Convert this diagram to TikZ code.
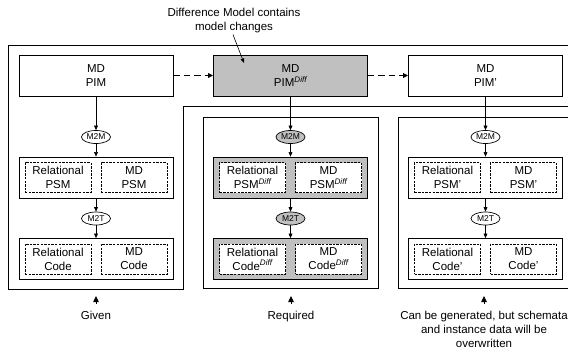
\documentclass[tikz,border=0pt]{standalone}
\usepackage{fontspec}
\setmainfont{Liberation Sans}
\usetikzlibrary{arrows.meta,shapes.geometric}
\definecolor{boxgray}{RGB}{192,192,192}
\newcommand\dffsup{\textsuperscript{\itshape Diff}}
\begin{document}
\begin{tikzpicture}[x=1pt,y=-1pt,
  every node/.style={font=\fontsize{11.5}{14}\selectfont, inner sep=0pt, align=center},
  frame/.style={draw, line width=0.8pt},
  pimbox/.style={draw, line width=0.8pt, minimum width=154pt, minimum height=41pt},
  container/.style={draw, line width=0.8pt, minimum width=154pt, minimum height=41pt},
  modelbox/.style={draw, fill=white, line width=1pt, dash pattern=on 2.4pt off 1.2pt, minimum width=66pt, minimum height=30pt},
  trafo/.style={draw, ellipse, line width=0.7pt, fill=white, minimum width=29pt, minimum height=13pt, font=\fontsize{8.5}{9}\selectfont},
  conn/.style={-{Triangle[length=4.5pt,width=3.8pt]}, line width=0.6pt},
  uparrow/.style={-{Triangle[length=6pt,width=5.5pt]}, line width=0.8pt},
  flow/.style={-{Triangle[length=5pt,width=4.6pt]}, line width=1.9pt, dash pattern=on 6.5pt off 4pt},
]
\useasboundingbox (0,0) rectangle (568,349);
\clip (0,0) rectangle (568,349);

% frames
\draw[frame] (590,45) -- (8,45) -- (8,289.5) -- (183,289.5) -- (183,106) -- (590,106);
\draw[frame] (203,117) rectangle (378,288);
\draw[frame] (590,117) -- (398,117) -- (398,288) -- (590,288);

% PIM row
\node[pimbox] (pim) at (96,75.5) {MD\\PIM};
\node[pimbox, fill=boxgray] (pimd) at (290.5,75.5) {MD\\PIM\dffsup};
\node[pimbox] (pimp) at (485.5,75.5) {MD\\PIM'};
\draw[flow] (pim) -- (pimd);
\draw[flow] (pimd) -- (pimp);

% annotation
\node (note) at (234,21) {Difference Model contains\\model changes};
\coordinate (notetip) at (244,63);
\draw[conn] ([xshift=-1pt,yshift=-1pt]note.south) -- (notetip);

% left column
\node[trafo] (mm0) at (96,137) {M2M};
\node[container] (psm0) at (96,177.5) {};
\node[modelbox] (rpsm0) at (58,177.5) {Relational\\PSM};
\node[modelbox] (mpsm0) at (134,177.5) {MD\\PSM};
\node[trafo] (mt0) at (96,218.5) {M2T};
\node[container] (code0) at (96,259) {};
\node[modelbox] (rcode0) at (58,259) {Relational\\Code};
\node[modelbox] (mcode0) at (134,259) {MD\\Code};
\draw[conn] (pim) -- (mm0);
\draw[conn] (mm0) -- (psm0);
\draw[conn] (psm0) -- (mt0);
\draw[conn] (mt0) -- (code0);

% middle column
\node[trafo, fill=boxgray] (mm1) at (290.5,137) {M2M};
\node[container, fill=boxgray] (psm1) at (290.5,177.5) {};
\node[modelbox] (rpsm1) at (252.5,177.5) {Relational\\PSM\dffsup};
\node[modelbox] (mpsm1) at (328.5,177.5) {MD\\PSM\dffsup};
\node[trafo, fill=boxgray] (mt1) at (290.5,218.5) {M2T};
\node[container, fill=boxgray] (code1) at (290.5,259) {};
\node[modelbox] (rcode1) at (252.5,259) {Relational\\Code\dffsup};
\node[modelbox] (mcode1) at (328.5,259) {MD\\Code\dffsup};
\draw[conn] (pimd) -- (mm1);
\draw[conn] (mm1) -- (psm1);
\draw[conn] (psm1) -- (mt1);
\draw[conn] (mt1) -- (code1);

% right column
\node[trafo] (mm2) at (485.5,137) {M2M};
\node[container] (psm2) at (485.5,177.5) {};
\node[modelbox] (rpsm2) at (447.5,177.5) {Relational\\PSM'};
\node[modelbox] (mpsm2) at (523.5,177.5) {MD\\PSM'};
\node[trafo] (mt2) at (485.5,218.5) {M2T};
\node[container] (code2) at (485.5,259) {};
\node[modelbox] (rcode2) at (447.5,259) {Relational\\Code'};
\node[modelbox] (mcode2) at (523.5,259) {MD\\Code'};
\draw[conn] (pimp) -- (mm2);
\draw[conn] (mm2) -- (psm2);
\draw[conn] (psm2) -- (mt2);
\draw[conn] (mt2) -- (code2);

% bottom labels
\node[anchor=north] (given) at (96,311) {Given};
\coordinate (giventip) at (96,296);
\draw[uparrow] ([yshift=7pt]given.north) -- (giventip);
\node[anchor=north] (req) at (291,311) {Required};
\coordinate (reqtip) at (291,296);
\draw[uparrow] ([yshift=7pt]req.north) -- (reqtip);
\node[anchor=north] (canbe) at (484,310.5) {Can be generated, but schemata\\and instance data will be\\overwritten};
\coordinate (canbetip) at (484,296);
\draw[uparrow] ([yshift=6.5pt]canbe.north) -- (canbetip);
\end{tikzpicture}
\end{document}
